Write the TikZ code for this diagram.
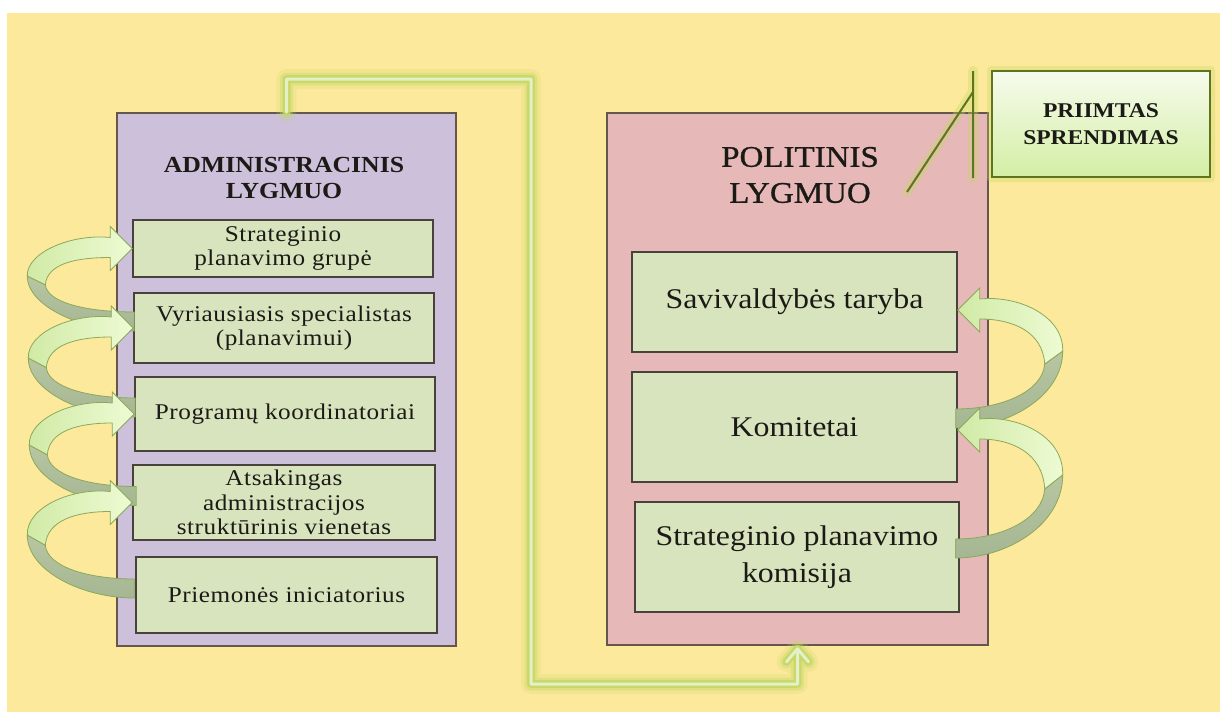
\documentclass[tikz,border=0pt]{standalone}
\usepackage{fontspec}
\setmainfont{Liberation Serif}[FakeStretch=1.12]
\newfontfamily\spacedserif{Liberation Serif}[FakeStretch=1.12,LetterSpace=2.5]
\newfontfamily\heavyserif{Liberation Serif}[FakeStretch=1.1,FakeBold=0.9]
\usetikzlibrary{arrows.meta}

\definecolor{canvas}{RGB}{253,233,155}
\definecolor{adminfill}{RGB}{204,192,218}
\definecolor{politfill}{RGB}{230,185,184}
\definecolor{unitfill}{RGB}{215,228,189}
\definecolor{panelline}{RGB}{100,88,78}
\definecolor{unitline}{RGB}{72,66,58}
\definecolor{inktext}{RGB}{28,26,22}
\definecolor{bandlight}{RGB}{238,251,212}
\definecolor{bandmid}{RGB}{208,234,165}
\definecolor{bandbacktop}{RGB}{184,198,162}
\definecolor{bandbackbot}{RGB}{165,182,146}
\definecolor{bandedge}{RGB}{140,168,90}
\definecolor{glowgreen}{RGB}{196,216,100}
\definecolor{palelink}{RGB}{228,240,200}
\definecolor{calloutline}{RGB}{92,118,32}
\definecolor{decisiontop}{RGB}{246,251,236}
\definecolor{decisionbot}{RGB}{212,238,165}

\tikzset{
  panel/.style={draw=panelline, line width=1.6pt, inner sep=0pt},
  unit/.style={draw=unitline, line width=1.4pt, fill=unitfill, align=center,
    inner sep=0pt, text=inktext, font={\spacedserif\fontsize{22.5}{24.5}\selectfont}},
  bigunit/.style={unit, font={\fontsize{28.5}{37}\selectfont}},
  paneltitle/.style={align=center, inner sep=0pt, text=inktext},
  % ribbon arrow that loops out to the side: tip at the origin, tail #1 lower
  pics/twist/.style={code={
    \path[draw=bandedge, line width=0.8pt, top color=bandbacktop, bottom color=bandbackbot]
      (-105,0.38*#1) .. controls (-105,0.8*#1) and (-50,#1+10) .. (2,#1+10)
      -- (2,#1-9) .. controls (-45,#1-9) and (-85,0.75*#1) .. (-87,0.5*#1) -- cycle;
    \path[draw=bandedge, line width=0.8pt, left color=bandmid, right color=bandlight]
      (0,0) -- (-22,-22) -- (-22,-11)
      .. controls (-60,-15) and (-106,0.05*#1) .. (-105,0.38*#1)
      -- (-87,0.5*#1) .. controls (-85,0.2*#1) and (-55,9) .. (-22,9)
      -- (-22,22) -- cycle;
  }},
  glowwide/.style={line width=20pt, glowgreen, opacity=.18, line join=round, line cap=round},
  glowmid/.style={line width=13pt, glowgreen, opacity=.35, line join=round, line cap=round},
  glowcore/.style={line width=8pt, glowgreen, opacity=.8, line join=round, line cap=round},
  linkline/.style={line width=3pt, palelink, line join=round, line cap=round},
}

\begin{document}
\begin{tikzpicture}[x=1pt, y=-1pt]
\useasboundingbox (0,0) rectangle (1220,712);
\fill[white] (0,0) rectangle (1220,712);
\fill[canvas] (7,13) rectangle (1220,712);

% the two levels
\node[panel, fill=adminfill, minimum width=339, minimum height=533] (panelL) at (286.5,379.5) {};
\node[panel, fill=politfill, minimum width=381, minimum height=532] (panelR) at (797.5,379) {};

\node[paneltitle, font={\bfseries\fontsize{23}{26}\selectfont}] (titleL) at (284,178) {ADMINISTRACINIS\\LYGMUO};
\node[paneltitle, font={\heavyserif\fontsize{30}{36}\selectfont}] (titleR) at (800,175) {POLITINIS\\LYGMUO};

% administrative units
\node[unit, minimum width=300, minimum height=57] (u1) at (283,248.5) {Strateginio\\planavimo grupė};
\node[unit, minimum width=300, minimum height=70] (u2) at (284,328) {Vyriausiasis specialistas\\(planavimui)};
\node[unit, minimum width=300, minimum height=74] (u3) at (285,414) {Programų koordinatoriai};
\node[unit, minimum width=302, minimum height=75] (u4) at (284,502.5) {Atsakingas\\administracijos\\struktūrinis vienetas};
\node[unit, minimum width=301, minimum height=76] (u5) at (286.5,595) {Priemonės iniciatorius};

% political units
\node[bigunit, minimum width=325, minimum height=100] (r1) at (794.5,302) {Savivaldybės taryba};
\node[bigunit, minimum width=325, minimum height=110] (r2) at (794.5,427) {Komitetai};
\node[bigunit, minimum width=324, minimum height=110] (r3) at (797,557) {Strateginio planavimo\\komisija};

% upward loops between administrative units
\pic at (u1.west) {twist=72.5};
\pic at (u2.west) {twist=79};
\pic at (u3.west) {twist=81.5};
\pic at (u4.west) {twist=85.5};

% upward loops between political units
\pic[xscale=-1] at ([yshift=-8pt]r1.east) {twist=108};
\pic[xscale=-1] at ([yshift=-3pt]r2.east) {twist=118};

% glowing link from the administrative to the political level
\coordinate (bendA) at (531,79);
\coordinate (bendB) at (531,684);
\coordinate (tipR) at ([yshift=-3pt]panelR.south);
\def\linkroute{(panelL.north) |- (bendA) -- (bendB) -| (tipR) -- ++(-11,13) (tipR) -- ++(11,13)}
\draw[glowwide] \linkroute;
\draw[glowmid] \linkroute;
\draw[glowcore] \linkroute;
\draw[linkline] \linkroute;

% decision callout
\fill[glowgreen, opacity=.3, rounded corners=4pt] (987,66) rectangle (1215,182);
\node[draw=calloutline, line width=1.6pt, top color=decisiontop, bottom color=decisionbot,
  minimum width=218, minimum height=106, align=center, inner sep=0pt, text=inktext,
  font={\bfseries\fontsize{21}{27}\selectfont}] (decision) at (1101,124) {PRIIMTAS\\SPRENDIMAS};
\coordinate (barTop) at (973,71);
\coordinate (barBot) at (973,178);
\coordinate (legStart) at (973,92);
\coordinate (legEnd) at (907,192);
\draw[line width=10pt, glowgreen, opacity=.35, line cap=round] (barTop) -- (barBot) (legStart) -- (legEnd);
\draw[line width=2pt, calloutline] (barTop) -- (barBot) (legStart) -- (legEnd);
\end{tikzpicture}
\end{document}
